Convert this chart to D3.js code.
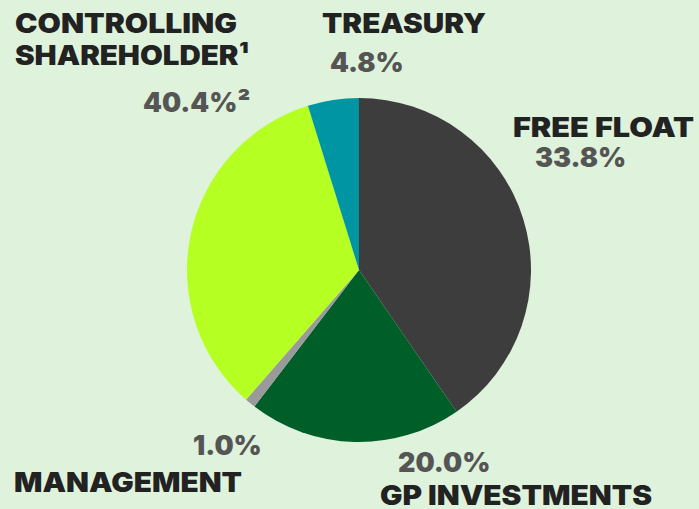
<!DOCTYPE html>
<html>
<head>
<meta charset="utf-8">
<script src="https://cdn.jsdelivr.net/npm/d3@7"></script>
<style>
  html, body { margin: 0; padding: 0; background: #dff2db; }
  svg { display: block; }
  text { font-family: Inter, "Liberation Sans", sans-serif; font-weight: 900; }
</style>
</head>
<body>
<svg id="chart" width="699" height="509"></svg>
<script>
// Ownership breakdown, slices in clockwise order from 12 o'clock
const categories = ["CONTROLLING SHAREHOLDER", "GP INVESTMENTS", "MANAGEMENT", "FREE FLOAT", "TREASURY"];
const values = [40.4, 20.0, 1.0, 33.8, 4.8];
const sliceColors = ["#3d3d3d", "#005e28", "#9a9a9a", "#b5ff22", "#0095a3"];

// Annotation text for each holder
const nameLines = [["CONTROLLING", "SHAREHOLDER\u00B9"], ["GP INVESTMENTS"], ["MANAGEMENT"], ["FREE FLOAT"], ["TREASURY"]];
const valueSuffix = ["\u00B2", "", "", "", ""];

const svg = d3.select("#chart");
const cx = 359, cy = 270, radius = 172;

const pie = d3.pie().sort(null).value(d => d.value).startAngle(0).endAngle(2 * Math.PI);
const arc = d3.arc().innerRadius(0).outerRadius(radius);

const data = categories.map((c, i) => ({ name: c, value: values[i], color: sliceColors[i] }));

svg.append("g")
  .attr("transform", `translate(${cx},${cy})`)
  .selectAll("path")
  .data(pie(data))
  .join("path")
  .attr("d", arc)
  .attr("fill", d => d.data.color);

// Label layout: name block (with line widths) and value line per holder
const labelLayout = [
  { nameX: 15, nameY: [33, 65], nameW: [222, 234], valX: 143, valY: 112 },   // controlling shareholder
  { nameX: 380, nameY: [505], nameW: [272], valX: 398, valY: 472 },          // gp investments
  { nameX: 14, nameY: [492], nameW: [228], valX: 193, valY: 455 },           // management
  { nameX: 513, nameY: [137], nameW: [181], valX: 535, valY: 167 },          // free float
  { nameX: 322, nameY: [33], nameW: [164], valX: 330, valY: 72 }             // treasury
];

const fs = 27;
const labels = svg.append("g");
data.forEach((d, i) => {
  const L = labelLayout[i];
  nameLines[i].forEach((line, k) => {
    labels.append("text")
      .attr("x", L.nameX).attr("y", L.nameY[k])
      .attr("font-size", fs)
      .attr("fill", "#222222")
      .attr("textLength", L.nameW[k])
      .attr("lengthAdjust", "spacingAndGlyphs")
      .text(line);
  });
  labels.append("text")
    .attr("x", L.valX).attr("y", L.valY)
    .attr("font-size", fs)
    .attr("fill", "#555555")
    .text(d.value.toFixed(1) + "%" + valueSuffix[i]);
});
</script>
</body>
</html>
